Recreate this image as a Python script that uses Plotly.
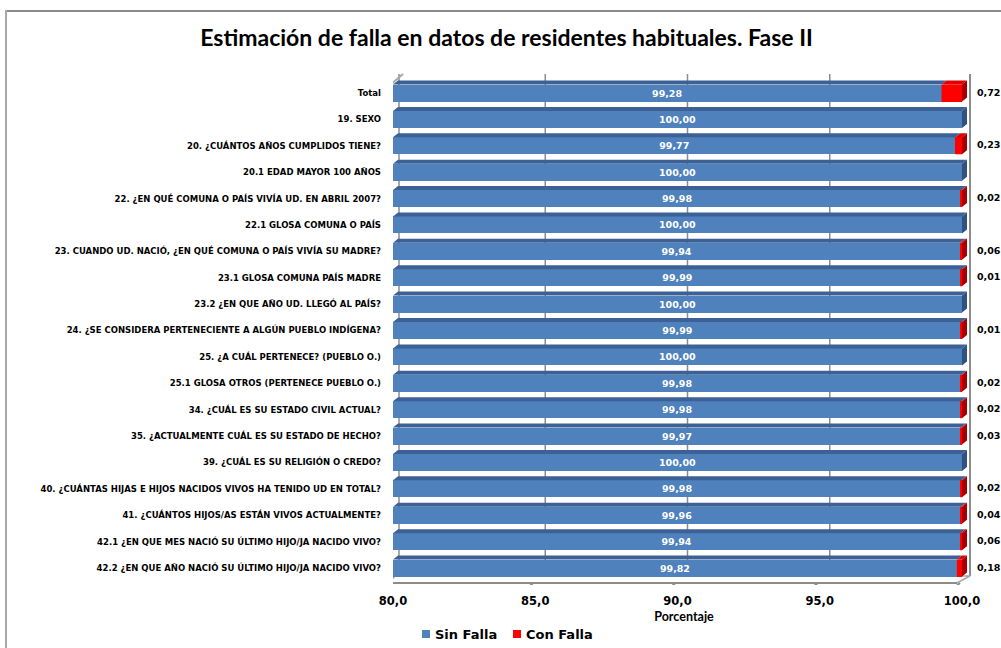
import plotly.graph_objects as go

# ---- data ----------------------------------------------------------------
categories = [
    "Total",
    "19. SEXO",
    "20. ¿CUÁNTOS AÑOS CUMPLIDOS TIENE?",
    "20.1 EDAD MAYOR 100 AÑOS",
    "22. ¿EN QUÉ COMUNA O PAÍS VIVÍA UD. EN ABRIL 2007?",
    "22.1 GLOSA COMUNA O PAÍS",
    "23. CUANDO UD. NACIÓ, ¿EN QUÉ COMUNA O PAÍS VIVÍA SU MADRE?",
    "23.1 GLOSA COMUNA PAÍS MADRE",
    "23.2 ¿EN QUE AÑO UD. LLEGÓ AL PAÍS?",
    "24. ¿SE CONSIDERA PERTENECIENTE A ALGÚN PUEBLO INDÍGENA?",
    "25. ¿A CUÁL PERTENECE? (PUEBLO O.)",
    "25.1 GLOSA OTROS (PERTENECE PUEBLO O.)",
    "34. ¿CUÁL ES SU ESTADO CIVIL ACTUAL?",
    "35. ¿ACTUALMENTE CUÁL ES SU ESTADO DE HECHO?",
    "39. ¿CUÁL ES SU RELIGIÓN O CREDO?",
    "40. ¿CUÁNTAS HIJAS E HIJOS NACIDOS VIVOS HA TENIDO UD EN TOTAL?",
    "41. ¿CUÁNTOS HIJOS/AS ESTÁN VIVOS ACTUALMENTE?",
    "42.1 ¿EN QUE MES NACIÓ SU ÚLTIMO HIJO/JA NACIDO VIVO?",
    "42.2 ¿EN QUE AÑO NACIÓ SU ÚLTIMO HIJO/JA NACIDO VIVO?",
]
sin_falla = [99.28, 100.00, 99.77, 100.00, 99.98, 100.00, 99.94, 99.99, 100.00,
             99.99, 100.00, 99.98, 99.98, 99.97, 100.00, 99.98, 99.96, 99.94, 99.82]
con_falla = [0.72, 0.00, 0.23, 0.00, 0.02, 0.00, 0.06, 0.01, 0.00,
             0.01, 0.00, 0.02, 0.02, 0.03, 0.00, 0.02, 0.04, 0.06, 0.18]
x_ticks = [80, 85, 90, 95, 100]
series_names = ["Sin Falla", "Con Falla"]

# ---- geometry ------------------------------------------------------------
W, H = 1001, 648
M_L, M_R, M_T, M_B = 393, 26, 70, 63
PLOT_W = W - M_L - M_R
PLOT_H = H - M_T - M_B
X_MIN, X_MAX = x_ticks[0], x_ticks[-1]
PX_PER_X = 569 / (X_MAX - X_MIN)          # horizontal scale of the value axis
X_HI = X_MIN + PLOT_W / PX_PER_X          # leaves room for the 3-D depth
ROW_PX = 26.39                            # vertical distance between bars
Y_TOP = -23 / ROW_PX                      # first bar sits 23 px below the top
Y_BOT = Y_TOP + PLOT_H / ROW_PX
BAR_W = 17 / ROW_PX

n = len(categories)
idx = list(range(n))


def py2y(py):
    return Y_TOP + (py - M_T) / ROW_PX


def dxu(px):
    return px / PX_PER_X


def dyu(px):
    return px / ROW_PX


def ppx(px):
    return (px - M_L) / PLOT_W


def ppy(py):
    return (H - M_B - py) / PLOT_H


def fmt(v):
    return f"{v:.2f}".replace(".", ",")


BLUE, BLUE_TOP, BLUE_SIDE = "#4F81BD", "#3B6196", "#2F5280"
RED, RED_TOP, RED_SIDE = "#FF0000", "#E00000", "#A80000"
GRID = "#8C8C8C"

fig = go.Figure()

fig.add_trace(go.Bar(
    name=series_names[0], orientation="h", y=idx,
    base=[X_MIN] * n, x=[v - X_MIN for v in sin_falla],
    width=BAR_W, marker=dict(color=BLUE, line=dict(width=0)),
    text=[fmt(v) for v in sin_falla], textposition="inside",
    insidetextanchor="middle", textangle=0, constraintext="none",
    textfont=dict(family="DejaVu Sans", size=9.5, color="white", weight="bold"),
    cliponaxis=True, showlegend=False,
))
fig.add_trace(go.Bar(
    name=series_names[1], orientation="h", y=idx,
    base=sin_falla, x=con_falla,
    width=BAR_W, marker=dict(color=RED, line=dict(width=0)),
    textposition="none", showlegend=False,
))

shapes = []

# outer frame of the chart area: top and left edges as thin filled strips
shapes.append(dict(type="rect", xref="paper", yref="paper", layer="above",
                   x0=ppx(5), x1=ppx(W), y0=ppy(10), y1=ppy(12),
                   fillcolor="#8A8A8A", line=dict(width=0)))
shapes.append(dict(type="rect", xref="paper", yref="paper", layer="above",
                   x0=ppx(5), x1=ppx(7), y0=ppy(10), y1=ppy(H),
                   fillcolor="#A8A8A8", line=dict(width=0)))

# back walls, floor and grid lines (3-D frame)
DEPTH_X, DEPTH_Y = 10, 7
wall_top = py2y(74)
floor_front = py2y(583)
floor_back = py2y(583 - DEPTH_Y)
for t in x_ticks[1:-1]:
    shapes.append(dict(type="line", layer="below", xref="x", yref="y",
                       x0=t + dxu(DEPTH_X), x1=t + dxu(DEPTH_X),
                       y0=floor_back, y1=wall_top,
                       line=dict(color=GRID, width=1.5)))
# right wall
shapes.append(dict(type="line", layer="below", xref="x", yref="y",
                   x0=X_MAX + dxu(8), x1=X_MAX + dxu(8),
                   y0=floor_back, y1=wall_top,
                   line=dict(color=GRID, width=2)))
# left wall (back edge, front edge and top edge)
shapes.append(dict(type="line", layer="below", xref="x", yref="y",
                   x0=X_MIN + dxu(6), x1=X_MIN + dxu(6),
                   y0=floor_back, y1=wall_top,
                   line=dict(color=GRID, width=1.5)))
shapes.append(dict(type="line", layer="below", xref="x", yref="y",
                   x0=X_MIN + dxu(-3), x1=X_MIN + dxu(-3),
                   y0=floor_front, y1=py2y(85),
                   line=dict(color="#A6A6A6", width=2)))
shapes.append(dict(type="line", layer="below", xref="x", yref="y",
                   x0=X_MIN + dxu(-3), x1=X_MIN + dxu(10),
                   y0=py2y(85), y1=wall_top,
                   line=dict(color="#A6A6A6", width=2)))
# floor
shapes.append(dict(type="path", layer="below", xref="x", yref="y",
                   path=(f"M{X_MIN + dxu(-4)},{floor_front} L{X_MAX - dxu(5)},{floor_front} "
                         f"L{X_MAX + dxu(8)},{floor_back} L{X_MIN + dxu(2)},{floor_back} Z"),
                   fillcolor="#FFFFFF", line=dict(color="#A6A6A6", width=1.5)))
shapes.append(dict(type="line", layer="below", xref="x", yref="y",
                   x0=X_MIN + dxu(-4), x1=X_MAX - dxu(5),
                   y0=floor_front, y1=floor_front,
                   line=dict(color=GRID, width=2)))
for t in x_ticks:
    shapes.append(dict(type="line", layer="below", xref="x", yref="y",
                       x0=t - dxu(8), x1=t - dxu(2),
                       y0=floor_front + dyu(5), y1=floor_front,
                       line=dict(color=GRID, width=2)))

# top and side faces of each bar segment
ddx, ddy = dxu(5), dyu(4)
for i in idx:
    top = i - BAR_W / 2
    bot = i + BAR_W / 2
    a, b = X_MIN, sin_falla[i]
    shapes.append(dict(type="path", xref="x", yref="y", layer="above",
                       path=f"M{a},{top} L{b},{top} L{b + ddx},{top - ddy} L{a + ddx},{top - ddy} Z",
                       fillcolor=BLUE_TOP, line=dict(width=0)))
    c = sin_falla[i] + con_falla[i]
    if con_falla[i] > 0:
        shapes.append(dict(type="path", xref="x", yref="y", layer="above",
                           path=f"M{b},{top} L{c},{top} L{c + ddx},{top - ddy} L{b + ddx},{top - ddy} Z",
                           fillcolor=RED_TOP, line=dict(width=0)))
        # keep very thin segments visible
        shapes.append(dict(type="path", xref="x", yref="y", layer="above",
                           path=f"M{min(b, c - dxu(2))},{top} L{c},{top} L{c},{bot} L{min(b, c - dxu(2))},{bot} Z",
                           fillcolor=RED, line=dict(width=0)))
        side = RED_SIDE
    else:
        side = BLUE_SIDE
    shapes.append(dict(type="path", xref="x", yref="y", layer="above",
                       path=f"M{c},{top} L{c + ddx},{top - ddy} L{c + ddx},{bot - ddy} L{c},{bot} Z",
                       fillcolor=side, line=dict(width=0)))

# labels for the failure share, outside the bar end
annotations = []
for i in idx:
    if con_falla[i] > 0:
        annotations.append(dict(
            xref="x", yref="y", x=sin_falla[i] + con_falla[i], y=i,
            text=fmt(con_falla[i]), showarrow=False,
            xanchor="left", yanchor="middle", xshift=13, yshift=1,
            font=dict(family="DejaVu Sans", size=9.5, color="black", weight="bold"),
        ))

# legend: coloured square + series name
legend_font = dict(family="DejaVu Sans", size=13, color="black", weight="bold")
for name, color, left in [(series_names[0], BLUE, 422), (series_names[1], RED, 513)]:
    shapes.append(dict(type="rect", xref="paper", yref="paper",
                       x0=ppx(left), x1=ppx(left + 8), y0=ppy(630), y1=ppy(638),
                       fillcolor=color, line=dict(width=0)))
    annotations.append(dict(xref="paper", yref="paper", x=ppx(left + 11), y=ppy(634),
                            xanchor="left", yanchor="middle", showarrow=False,
                            text=name, font=legend_font))

fig.update_layout(
    width=W, height=H,
    margin=dict(l=M_L, r=M_R, t=M_T, b=M_B, autoexpand=False),
    paper_bgcolor="white", plot_bgcolor="rgba(0,0,0,0)",
    barmode="stack", bargap=0.36,
    separators=",.",
    title=dict(text="<b>Estimación de falla en datos de residentes habituales. Fase II</b>",
               x=0.506, xanchor="center", y=1 - 38 / H, yanchor="middle",
               font=dict(family="Lato", size=23, color="black")),
    xaxis=dict(range=[X_MIN, X_HI], tickvals=x_ticks, tickformat=".1f",
               showgrid=False, zeroline=False, showline=False, ticks="",
               ticklabelstandoff=7,
               tickfont=dict(family="DejaVu Sans", size=11.5, color="black", weight="bold"),
               title=dict(text="<b>Porcentaje</b>", standoff=5,
                          font=dict(family="Lato", size=12.5, color="black"))),
    yaxis=dict(range=[Y_BOT, Y_TOP], tickvals=idx, ticktext=categories,
               showgrid=False, zeroline=False, showline=False, ticks="",
               ticklabelstandoff=11,
               tickfont=dict(family="DejaVu Sans", size=8.5, color="black", weight="bold")),
    shapes=shapes, annotations=annotations,
    showlegend=False,
)

fig.write_html("out.html")
